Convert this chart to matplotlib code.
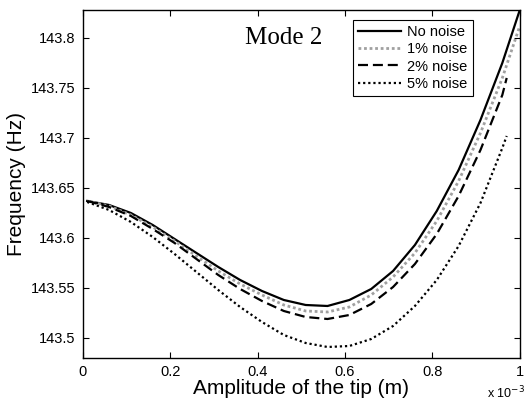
import numpy as np
import matplotlib
matplotlib.use("Agg")
import matplotlib.pyplot as plt

plt.rcParams['font.family'] = ['Liberation Sans', 'DejaVu Sans']

# Амплитуда кончика (x 1e-3 м)
amp = [0.01, 0.06, 0.11, 0.16, 0.21, 0.26, 0.31, 0.36, 0.41, 0.46,
       0.51, 0.56, 0.61, 0.66, 0.71, 0.76, 0.81, 0.86, 0.91, 0.96]

# Частота (Hz)
f_clean = [143.637, 143.633, 143.625, 143.613, 143.599, 143.585, 143.571, 143.558,
           143.547, 143.538, 143.533, 143.532, 143.538, 143.549, 143.567, 143.593,
           143.627, 143.668, 143.718, 143.775]
f_1 = [143.637, 143.632, 143.623, 143.611, 143.597, 143.582, 143.567, 143.554,
       143.543, 143.533, 143.527, 143.526, 143.531, 143.543, 143.561, 143.585,
       143.617, 143.657, 143.705, 143.760]
f_2 = [143.637, 143.631, 143.622, 143.609, 143.595, 143.579, 143.563, 143.549,
       143.537, 143.527, 143.521, 143.519, 143.523, 143.534, 143.551, 143.574,
       143.604, 143.642, 143.688, 143.743]
f_5 = [143.636, 143.628, 143.616, 143.601, 143.584, 143.566, 143.548, 143.531,
       143.516, 143.503, 143.495, 143.491, 143.492, 143.499, 143.512, 143.532,
       143.558, 143.592, 143.635, 143.690]

# концы кривых
amp_clean_end, f_clean_end = 1.0, 143.828
amp_1_end, f_1_end = 1.0, 143.812
amp_2_end, f_2_end = 0.97, 143.760
amp_5_end, f_5_end = 0.97, 143.702

fig = plt.figure(figsize=(5.24, 4.09), dpi=100)
ax = fig.add_axes([0.158, 0.1247, 0.834, 0.851])

ax.plot(amp + [amp_clean_end], f_clean + [f_clean_end], color="black", lw=1.6, label="No noise")
ax.plot(amp + [amp_1_end], f_1 + [f_1_end], color="#a0a0a0", lw=2.0, ls=(0, (1, 1)), label="1% noise")
ax.plot(amp + [amp_2_end], f_2 + [f_2_end], color="black", lw=1.6, ls=(0, (4.5, 2.2)), label="2% noise")
ax.plot(amp + [amp_5_end], f_5 + [f_5_end], color="black", lw=1.6, ls=(0, (1, 1.3)), label="5% noise")

ax.set_xlim(0, 1)
ax.set_ylim(143.48, 143.828)
ax.set_xticks([0, 0.2, 0.4, 0.6, 0.8, 1])
ax.set_xticklabels(["0", "0.2", "0.4", "0.6", "0.8", "1"])
ax.set_yticks([143.5, 143.55, 143.6, 143.65, 143.7, 143.75, 143.8])
ax.set_yticklabels(["143.5", "143.55", "143.6", "143.65", "143.7", "143.75", "143.8"])
ax.tick_params(direction="in", top=True, right=True, length=4, width=0.8,
               labelsize=10.5, pad=5)
for s in ax.spines.values():
    s.set_linewidth(1.0)

ax.set_xlabel("Amplitude of the tip (m)", fontsize=15, labelpad=0)
ax.set_ylabel("Frequency (Hz)", fontsize=15, labelpad=4)

ax.text(0.46, 143.80, "Mode 2", family="Liberation Serif", fontsize=18,
        ha="center", va="center")
fig.text(0.93, 0.02, "x 10$^{-3}$", fontsize=9, ha="left", va="bottom")

leg = ax.legend(loc="upper right", bbox_to_anchor=(0.892, 0.971), borderaxespad=0,
                fontsize=10.5, handlelength=3.0, labelspacing=0.22, fancybox=False,
                framealpha=1, edgecolor="black", borderpad=0.35, handletextpad=0.4)
leg.get_frame().set_linewidth(0.8)

fig.savefig("out.png", dpi=100)
